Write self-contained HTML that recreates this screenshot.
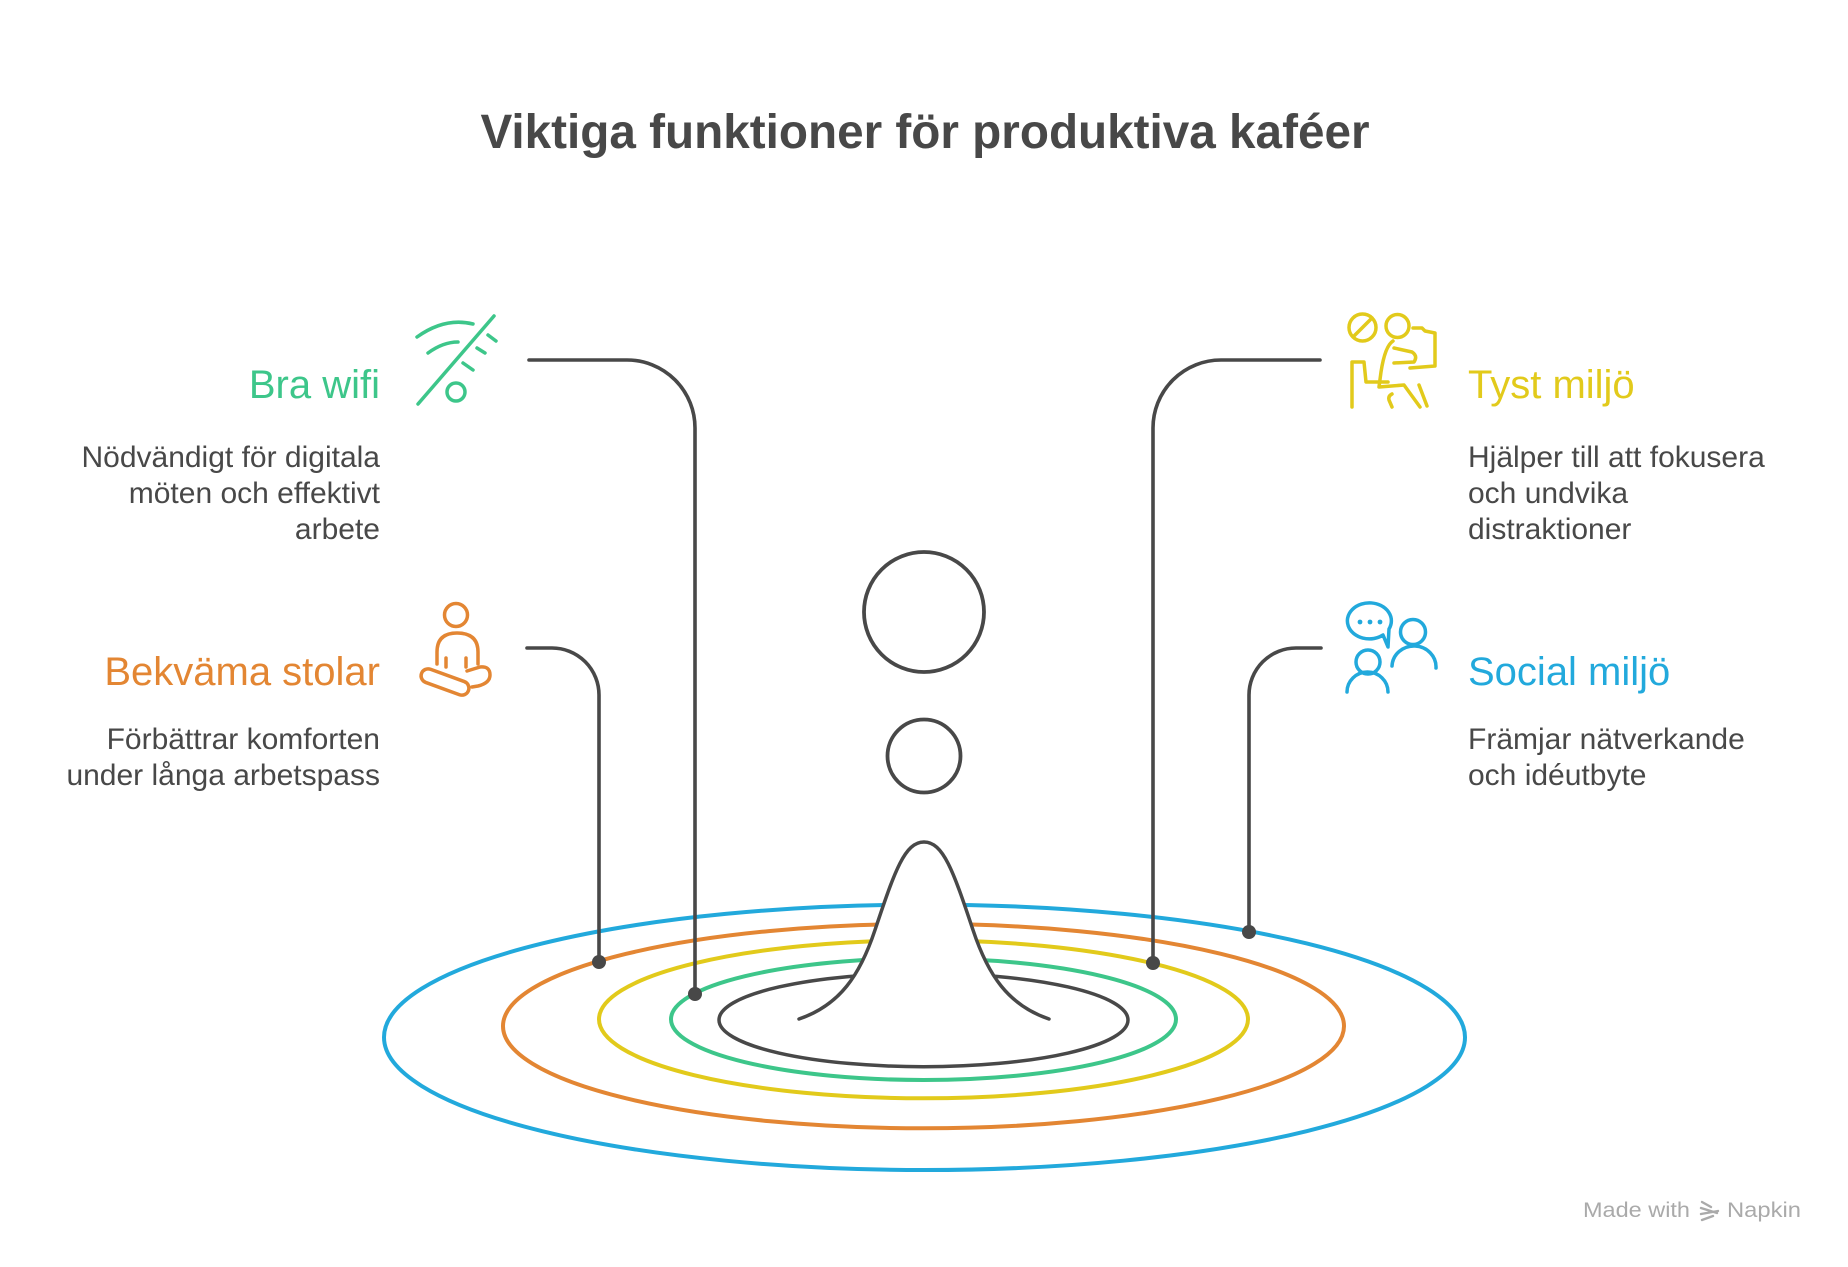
<!DOCTYPE html>
<html>
<head>
<meta charset="utf-8">
<style>
  html, body { margin:0; padding:0; background:#ffffff; }
  body { width:1848px; height:1267px; overflow:hidden; }
  svg { display:block; }
  text { font-family: "Liberation Sans", Arial, sans-serif; }
</style>
</head>
<body>
<svg width="1848" height="1267" viewBox="0 0 1848 1267" xmlns="http://www.w3.org/2000/svg">
  <rect x="0" y="0" width="1848" height="1267" fill="#ffffff"/>

  <!-- Title -->
  <text x="925" y="148" text-anchor="middle" font-size="48" font-weight="bold" fill="#484848" textLength="889" lengthAdjust="spacingAndGlyphs">Viktiga funktioner för produktiva kaféer</text>

  <!-- Left labels -->
  <text x="380" y="398" text-anchor="end" font-size="40" fill="#3DC68A">Bra wifi</text>
  <g font-size="30" fill="#484848" text-anchor="end">
    <text x="380" y="467">Nödvändigt för digitala</text>
    <text x="380" y="503">möten och effektivt</text>
    <text x="380" y="539">arbete</text>
  </g>

  <text x="380" y="685" text-anchor="end" font-size="40" fill="#E38633">Bekväma stolar</text>
  <g font-size="30" fill="#484848" text-anchor="end">
    <text x="380" y="749">Förbättrar komforten</text>
    <text x="380" y="785">under långa arbetspass</text>
  </g>

  <!-- Right labels -->
  <text x="1468" y="398" font-size="40" fill="#E2CA1B">Tyst miljö</text>
  <g font-size="30" fill="#484848">
    <text x="1468" y="467">Hjälper till att fokusera</text>
    <text x="1468" y="503">och undvika</text>
    <text x="1468" y="539">distraktioner</text>
  </g>

  <text x="1468" y="685" font-size="40" fill="#22A9DC">Social miljö</text>
  <g font-size="30" fill="#484848">
    <text x="1468" y="749">Främjar nätverkande</text>
    <text x="1468" y="785">och idéutbyte</text>
  </g>

  <!-- Wifi icon -->
  <g fill="none" stroke="#3DC68A" stroke-width="3.5" stroke-linecap="round" stroke-linejoin="round">
    <path d="M417,337 Q445,317 473,324"/>
    <path d="M428,353 Q443,342 458,342"/>
    <path d="M418,404 L494,316"/>
    <path d="M488,335 L496,341"/>
    <path d="M477,348 L485,353"/>
    <path d="M463,363 L473,370"/>
    <circle cx="456" cy="392" r="9"/>
  </g>

  <!-- Meditating person icon -->
  <g fill="none" stroke="#E38633" stroke-width="3.5" stroke-linecap="round" stroke-linejoin="round">
    <circle cx="456" cy="615" r="11.5"/>
    <path d="M437,664 L437,652 Q437,633 457,633 Q478,633 478,652 L478,664"/>
    <path d="M446,658 L446,667"/>
    <path d="M466,658 L466,667"/>
    <rect x="420" y="675" width="50" height="14" rx="7" ry="7" transform="rotate(20 445 682)"/>
    <path d="M467,671 L480,667 Q490,666 490,675 Q490,683 478,686 L472,687"/>
  </g>

  <!-- Quiet environment icon -->
  <g fill="none" stroke="#E2CA1B" stroke-width="3.5" stroke-linecap="round" stroke-linejoin="round">
    <circle cx="1362.5" cy="327.5" r="13.5"/>
    <path d="M1354,336 L1372,318"/>
    <circle cx="1397.5" cy="326" r="11.5"/>
    <path d="M1413,328 L1422,328 L1425,331 L1435,333 L1435,366 L1410,368"/>
    <path d="M1352,407 L1352,362 L1364,362 L1366,382 L1388,382"/>
    <path d="M1393,341 Q1385,346 1381,372 L1379,387 L1404,385 L1420,407"/>
    <path d="M1394,348 L1412,352 Q1418,356 1414,362 L1394,363"/>
    <path d="M1392,394 Q1388,396 1389,400 L1392,407"/>
    <path d="M1427,406 L1419,385"/>
  </g>

  <!-- Social icon -->
  <g fill="none" stroke="#22A9DC" stroke-width="3.5" stroke-linecap="round" stroke-linejoin="round">
    <path d="M1383,635 A22,18 0 1 1 1389,629 L1388,647 Z"/>
    <circle cx="1413" cy="632" r="12.5"/>
    <path d="M1392,666 A22,21 0 0 1 1436,668"/>
    <circle cx="1368" cy="662" r="12"/>
    <path d="M1347,692 A20.5,20 0 0 1 1388,692"/>
  </g>
  <g fill="#22A9DC">
    <circle cx="1360" cy="622" r="2.4"/>
    <circle cx="1370" cy="622" r="2.4"/>
    <circle cx="1380" cy="622" r="2.4"/>
  </g>

  <!-- Ripple ellipses -->
  <g fill="none" stroke-width="4">
    <ellipse cx="924.5" cy="1037.3" rx="540.5" ry="132.7" stroke="#22A9DC"/>
    <ellipse cx="923.5" cy="1026.1" rx="420.5" ry="102.2" stroke="#E38633"/>
    <ellipse cx="923.5" cy="1019.3" rx="324.5" ry="79" stroke="#E2CA1B"/>
    <ellipse cx="923.5" cy="1019.2" rx="252.5" ry="60.8" stroke="#3DC68A"/>
    <ellipse cx="923.5" cy="1020" rx="204.5" ry="46.7" stroke="#484848" stroke-width="3.5"/>
  </g>

  <!-- Drop shape: white fill to hide ellipses behind -->
  <path d="M799,1019 C840,1005 860,975 875,930 C895,870 905,842 924,842 C943,842 953,870 973,930 C988,975 1008,1005 1049,1019 Z" fill="#ffffff" stroke="none"/>
  <path d="M799,1019 C840,1005 860,975 875,930 C895,870 905,842 924,842 C943,842 953,870 973,930 C988,975 1008,1005 1049,1019" fill="none" stroke="#484848" stroke-width="3.5" stroke-linecap="round"/>

  <!-- Floating drops -->
  <circle cx="924" cy="612" r="60" fill="none" stroke="#484848" stroke-width="3.8"/>
  <circle cx="924" cy="756" r="36.5" fill="none" stroke="#484848" stroke-width="3.8"/>

  <!-- Connectors -->
  <g fill="none" stroke="#484848" stroke-width="3.6" stroke-linecap="round">
    <path d="M529,360 L627,360 A68,68 0 0 1 695,428 L695,994"/>
    <path d="M527,648 L552,648 A47,47 0 0 1 599,695 L599,962"/>
    <path d="M1320,360 L1221,360 A68,68 0 0 0 1153,428 L1153,963"/>
    <path d="M1321,648 L1296,648 A47,47 0 0 0 1249,695 L1249,932"/>
  </g>
  <g fill="#484848">
    <circle cx="695" cy="994" r="7"/>
    <circle cx="599" cy="962" r="7"/>
    <circle cx="1153" cy="963" r="7"/>
    <circle cx="1249" cy="932" r="7"/>
  </g>

  <!-- Watermark -->
  <text x="1583" y="1217" font-size="21" fill="#aaaaaa" textLength="107" lengthAdjust="spacingAndGlyphs">Made with</text>
  <g fill="none" stroke="#aaaaaa" stroke-width="2.4" stroke-linecap="round">
    <path d="M1702,1202 L1711,1207"/>
    <path d="M1701,1208 L1717,1213"/>
    <path d="M1701,1214 L1718,1211"/>
    <path d="M1702,1220 L1713,1216"/>
  </g>
  <text x="1727" y="1217" font-size="21" fill="#aaaaaa" textLength="74" lengthAdjust="spacingAndGlyphs">Napkin</text>
</svg>
</body>
</html>
